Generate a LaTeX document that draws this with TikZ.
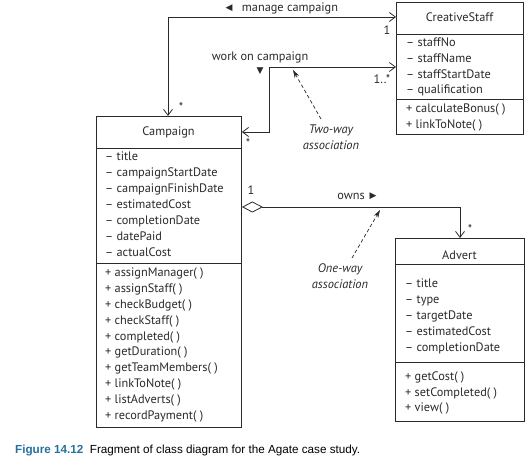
\documentclass[tikz,border=0pt]{standalone}
\usepackage{fontspec}
\setmainfont{PT Sans}
\newfontfamily\symfont{DejaVu Sans}
\newfontfamily\capfont{Liberation Sans}
\usetikzlibrary{arrows.meta}
\definecolor{ink}{HTML}{2A2A2A}
\definecolor{capblue}{RGB}{38,112,158}
\begin{document}
\begin{tikzpicture}[x=1pt,y=-1pt,
  box/.style={draw=ink, line width=0.9pt, anchor=north west, inner sep=0pt, fill=white},
  sep/.style={draw=ink, line width=0.8pt},
  txt/.style={inner sep=0pt, font=\fontsize{12.3}{14}\selectfont, text=ink},
  lin/.style={txt, anchor=base west},
  ttl/.style={txt, anchor=base},
  note/.style={inner sep=0pt, align=center, font=\fontsize{12.4}{15.5}\selectfont\itshape, text=ink},
  assoc/.style={draw=ink, line width=0.8pt},
  barb/.tip={Straight Barb[length=6pt,width=9pt]},
  dia/.tip={Diamond[open,length=21pt,width=11pt,fill=white]},
  pointer/.style={draw=ink, line width=0.7pt, dash pattern=on 3.5pt off 2.5pt, -{Stealth[length=8pt,width=5pt]}},
  tri/.style={inner sep=0pt, font=\fontsize{9}{9}\symfont, text=ink}
]
\useasboundingbox (0,0) rectangle (531,462);

% ---- CreativeStaff ----
\node[box, minimum width=127pt, minimum height=132pt] (cs) at (396,2) {};
\draw[sep] (396,34) -- (523,34);
\draw[sep] (396,99) -- (523,99);
\node[ttl] (cst) at (459.5,22) {CreativeStaff};
\foreach [count=\i] \t in {– staffNo,– staffName,– staffStartDate,– qualification}
  \node[lin] (csa\i) at (406,{47+15.6*(\i-1)}) {\t};
\foreach [count=\i] \t in {+ calculateBonus( ),+ linkToNote( )}
  \node[lin] (csm\i) at (406,{113+16*(\i-1)}) {\t};

% ---- Campaign ----
\node[box, minimum width=145pt, minimum height=311pt] (camp) at (96,116) {};
\draw[sep] (96,148) -- (241,148);
\draw[sep] (96,263) -- (241,263);
\node[ttl] (campt) at (168.5,136) {Campaign};
\foreach [count=\i] \t in {– title,– campaignStartDate,– campaignFinishDate,– estimatedCost,– completionDate,– datePaid,– actualCost}
  \node[lin] (cpa\i) at (105,{161+16*(\i-1)}) {\t};
\foreach [count=\i] \t in {+ assignManager( ),+ assignStaff( ),+ checkBudget( ),+ checkStaff( ),+ completed( ),+ getDuration( ),+ getTeamMembers( ),+ linkToNote( ),+ listAdverts( ),+ recordPayment( )}
  \node[lin] (cpm\i) at (105,{277+15.78*(\i-1)}) {\t};

% ---- Advert ----
\node[box, minimum width=129pt, minimum height=183pt] (adv) at (395,238) {};
\draw[sep] (395,264) -- (524,264);
\draw[sep] (395,362) -- (524,362);
\node[ttl] (advt) at (459.5,260) {Advert};
\foreach [count=\i] \t in {– title,– type,– targetDate,– estimatedCost,– completionDate}
  \node[lin] (ada\i) at (405,{288+16*(\i-1)}) {\t};
\foreach [count=\i] \t in {+ getCost( ),+ setCompleted( ),+ view( )}
  \node[lin] (adm\i) at (405,{381+15.5*(\i-1)}) {\t};

% ---- manage campaign ----
\coordinate (k1) at (168,17);
\draw[assoc, barb-barb] (cs.west |- k1) -- (k1) -- (k1 |- camp.north);
\node[txt] (l1) at (290,8) {manage campaign};
\node[tri] (l1t) at (229,8) {◀};
\node[txt] (m1a) at (387,30) {1};
\node[txt] (m1b) at (181,107) {*};

% ---- work on campaign ----
\coordinate (k2) at (269,67);
\coordinate (k3) at (269,132);
\draw[assoc, barb-barb] (cs.west |- k2) -- (k2) -- (k3) -- (camp.east |- k3);
\node[txt] (l2) at (260,57) {work on campaign};
\node[tri] (l2t) at (260,71) {▼};
\node[txt] (m2a) at (382,79) {1..*};
\node[txt] (m2b) at (248,143) {*};

% ---- owns ----
\coordinate (k4) at (460,207);
\draw[assoc, dia-barb] (camp.east |- k4) -- (k4) -- (k4 |- adv.north);
\node[txt] (l3) at (351,196) {owns};
\node[tri] (l3t) at (373,196) {▶};
\node[txt] (m3a) at (251,190) {1};
\node[txt] (m3b) at (470,229) {*};

% ---- notes ----
\node[note] (n1) at (331,137) {Two-way\\association};
\coordinate (n1s) at (321,119);
\coordinate (n1e) at (293,70);
\draw[pointer] (n1s) -- (n1e);
\node[note] (n2) at (340,276) {One-way\\association};
\coordinate (n2s) at (352,258);
\coordinate (n2e) at (380,210);
\draw[pointer] (n2s) -- (n2e);

% ---- caption ----
\node[anchor=base west, inner sep=0pt, font=\fontsize{11.7}{13}\capfont] (cap) at (15,454)
  {\textcolor{capblue}{\bfseries Figure 14.12}\hspace{0.55em}Fragment of class diagram for the Agate case study.};
\end{tikzpicture}
\end{document}
